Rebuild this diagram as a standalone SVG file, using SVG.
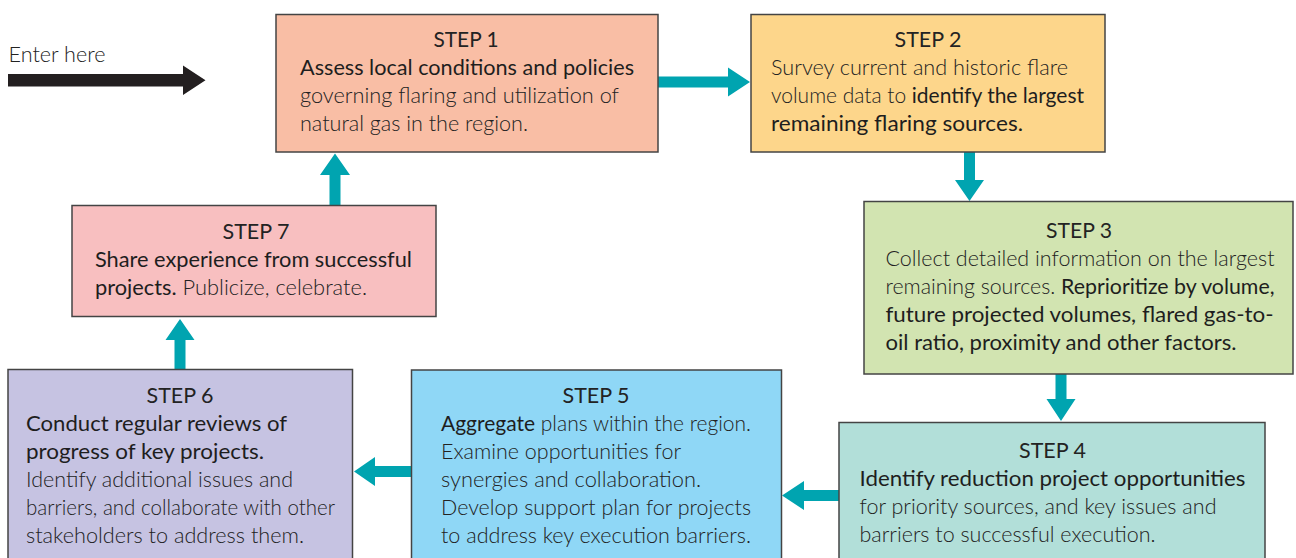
<svg xmlns="http://www.w3.org/2000/svg" width="1296" height="558" viewBox="0 0 1296 558">
<style>
  text { font-family: Lato, "Open Sans", "Liberation Sans", sans-serif; font-size: 21px; fill: #2a2a2a; }
  .t { font-weight: 400; text-anchor: middle; fill: #232323; }
  .l { font-weight: 300; fill: #222222; }
  .b { font-weight: 400; fill: #1e1e1e; }
  .box { stroke: #444444; stroke-width: 1.5; }
  .arr { fill: #00a4b0; }
</style>
<rect width="1296" height="558" fill="#ffffff"/>

<g id="enter">
  <text class="l" x="8.5" y="62" textLength="97" lengthAdjust="spacingAndGlyphs">Enter here</text>
  <path d="M8,74 H183 V65.5 L205.5,80.2 L183,95 V86.5 H8 Z" fill="#231f20"/>
</g>

<g id="connectors">
  <path class="arr" d="M658,76.5 H728 V67.5 L750,82 L728,96.5 V87.5 H658 Z"/>
  <path class="arr" d="M964,152 V180 H955 L969.5,201 L984,180 H975 V152 Z"/>
  <path class="arr" d="M1055.5,374 V399 H1046.5 L1061,421 L1075.5,399 H1066.5 V374 Z"/>
  <path class="arr" d="M839,490 H804 V481 L782,495.5 L804,510 V501 H839 Z"/>
  <path class="arr" d="M411.5,466 H375 V457 L354,471.5 L375,486 V477 H411.5 Z"/>
  <path class="arr" d="M174.5,369.5 V340 H165.5 L180,319 L194.5,340 H185.5 V369.5 Z"/>
  <path class="arr" d="M329.5,205.5 V175 H320 L335,153.5 L350,175 H340.5 V205.5 Z"/>
</g>

<g id="step1">
  <rect class="box" x="276" y="14.5" width="382" height="137.5" fill="#f9bea5"/>
  <text class="t" x="466" y="47" textLength="65" lengthAdjust="spacingAndGlyphs">STEP 1</text>
  <text class="b" x="300" y="75" textLength="334" lengthAdjust="spacingAndGlyphs">Assess local conditions and policies</text>
  <text class="l" x="300" y="103" textLength="319" lengthAdjust="spacingAndGlyphs">governing flaring and utilization of</text>
  <text class="l" x="300" y="131" textLength="228" lengthAdjust="spacingAndGlyphs">natural gas in the region.</text>
</g>

<g id="step2">
  <rect class="box" x="751" y="14.5" width="354" height="137.5" fill="#fdd68b"/>
  <text class="t" x="928" y="47" textLength="67" lengthAdjust="spacingAndGlyphs">STEP 2</text>
  <text class="l" x="771" y="75" textLength="297" lengthAdjust="spacingAndGlyphs">Survey current and historic flare</text>
  <text x="771" y="103" textLength="313" lengthAdjust="spacingAndGlyphs"><tspan class="l">volume data to </tspan><tspan class="b">identify the largest</tspan></text>
  <text class="b" x="771" y="131" textLength="252" lengthAdjust="spacingAndGlyphs">remaining flaring sources.</text>
</g>

<g id="step3">
  <rect class="box" x="864" y="201.5" width="429" height="172.5" fill="#d2e4b1"/>
  <text class="t" x="1079" y="238" textLength="66" lengthAdjust="spacingAndGlyphs">STEP 3</text>
  <text class="l" x="885.5" y="266" textLength="389" lengthAdjust="spacingAndGlyphs">Collect detailed information on the largest</text>
  <text x="885.5" y="294" textLength="389" lengthAdjust="spacingAndGlyphs"><tspan class="l">remaining sources. </tspan><tspan class="b">Reprioritize by volume,</tspan></text>
  <text class="b" x="885.5" y="322" textLength="388" lengthAdjust="spacingAndGlyphs">future projected volumes, flared gas-to-</text>
  <text class="b" x="885.5" y="349.5" textLength="351" lengthAdjust="spacingAndGlyphs">oil ratio, proximity and other factors.</text>
</g>

<g id="step4">
  <rect class="box" x="839" y="422.5" width="426" height="145" fill="#b2dfd9"/>
  <text class="t" x="1052.5" y="458" textLength="67" lengthAdjust="spacingAndGlyphs">STEP 4</text>
  <text class="b" x="859.5" y="486" textLength="386" lengthAdjust="spacingAndGlyphs">Identify reduction project opportunities</text>
  <text class="l" x="859.5" y="514" textLength="357" lengthAdjust="spacingAndGlyphs">for priority sources, and key issues and</text>
  <text class="l" x="859.5" y="542" textLength="296" lengthAdjust="spacingAndGlyphs">barriers to successful execution.</text>
</g>

<g id="step5">
  <rect class="box" x="411.5" y="370" width="370" height="197" fill="#8fd7f6"/>
  <text class="t" x="596" y="403" textLength="67" lengthAdjust="spacingAndGlyphs">STEP 5</text>
  <text x="441" y="431" textLength="310" lengthAdjust="spacingAndGlyphs"><tspan class="b">Aggregate</tspan><tspan class="l"> plans within the region.</tspan></text>
  <text class="l" x="441" y="459" textLength="240" lengthAdjust="spacingAndGlyphs">Examine opportunities for</text>
  <text class="l" x="441" y="487" textLength="260" lengthAdjust="spacingAndGlyphs">synergies and collaboration.</text>
  <text class="l" x="441" y="514.5" textLength="310" lengthAdjust="spacingAndGlyphs">Develop support plan for projects</text>
  <text class="l" x="441" y="542.5" textLength="310" lengthAdjust="spacingAndGlyphs">to address key execution barriers.</text>
</g>

<g id="step6">
  <rect class="box" x="8" y="369.5" width="344.5" height="197.5" fill="#c6c3e2"/>
  <text class="t" x="180" y="403" textLength="67" lengthAdjust="spacingAndGlyphs">STEP 6</text>
  <text class="b" x="26" y="431" textLength="261" lengthAdjust="spacingAndGlyphs">Conduct regular reviews of</text>
  <text class="b" x="26" y="459" textLength="238" lengthAdjust="spacingAndGlyphs">progress of key projects.</text>
  <text class="l" x="26" y="487" textLength="267" lengthAdjust="spacingAndGlyphs">Identify additional issues and</text>
  <text class="l" x="26" y="514.5" textLength="309" lengthAdjust="spacingAndGlyphs">barriers, and collaborate with other</text>
  <text class="l" x="26" y="542.5" textLength="278" lengthAdjust="spacingAndGlyphs">stakeholders to address them.</text>
</g>

<g id="step7">
  <rect class="box" x="72" y="205.5" width="364" height="111" fill="#f8bfc0"/>
  <text class="t" x="256" y="239" textLength="67" lengthAdjust="spacingAndGlyphs">STEP 7</text>
  <text class="b" x="95" y="267" textLength="317" lengthAdjust="spacingAndGlyphs">Share experience from successful</text>
  <text x="95" y="295" textLength="272" lengthAdjust="spacingAndGlyphs"><tspan class="b">projects.</tspan><tspan class="l"> Publicize, celebrate.</tspan></text>
</g>
</svg>
